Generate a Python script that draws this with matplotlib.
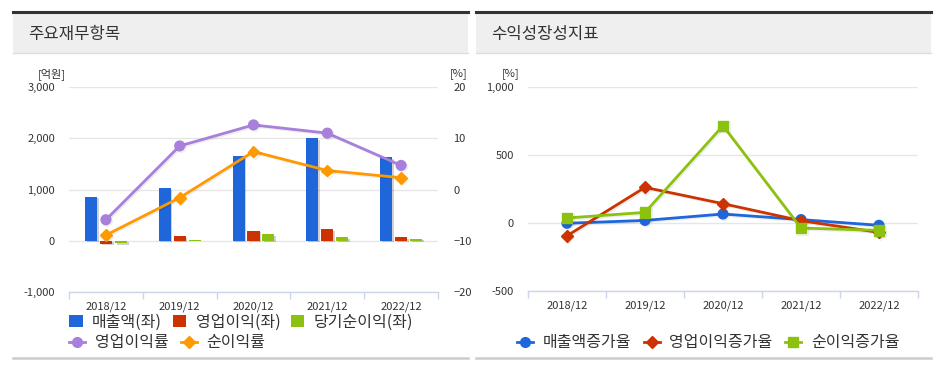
import matplotlib
matplotlib.use("Agg")
import matplotlib.pyplot as plt
import matplotlib.patheffects as pe
from matplotlib.patches import Rectangle
from matplotlib.lines import Line2D
import matplotlib.ticker as mtick
import numpy as np

plt.rcParams["font.family"] = ["Noto Sans CJK KR", "DejaVu Sans"]

# ---- data ----
years = ["2018/12", "2019/12", "2020/12", "2021/12", "2022/12"]

sales = [863, 1020, 1654, 2000, 1627]          # 매출액(좌)
op_profit = [-55, 95, 200, 228, 72]            # 영업이익(좌)
net_profit = [-45, 5, 130, 72, 40]             # 당기순이익(좌)
op_margin = [-5.9, 8.5, 12.6, 11.0, 4.7]       # 영업이익률
net_margin = [-8.9, -1.6, 7.4, 3.7, 2.3]       # 순이익률

sales_growth = [-2, 19, 66, 25, -17]           # 매출액증가율
op_growth = [-94, 262, 142, 17, -69]           # 영업이익증가율
net_growth = [37, 78, 715, -37, -54]           # 순이익증가율

W, H = 937, 368
BLUE, RED, GREEN = "#1f66db", "#cc3300", "#8cc20f"
PURPLE, ORANGE = "#a87fdb", "#ff9900"
GRID = "#e6e6e6"
AXIS = "#ccd6eb"
TXT = "#333333"
LEG_FS = 11.5


def fx(px):
    return px / W


def fy(py):
    return 1 - py / H


def rect(x0, y0, x1, y1):
    return [fx(x0), fy(y1), fx(x1 - x0), (y1 - y0) / H]


fig = plt.figure(figsize=(W / 100, H / 100), dpi=100)

# panel frames / headers
for x0, x1, title in [(13, 468, "주요재무항목"), (476, 931, "수익성장성지표")]:
    fig.patches.append(Rectangle((fx(x0), fy(53)), fx(x1 - x0), 40 / H,
                                 transform=fig.transFigure, facecolor="#efefef", edgecolor="none"))
    fig.add_artist(Line2D([fx(x0), fx(x1)], [fy(12), fy(12)], color="#333333", lw=2.2))
    fig.add_artist(Line2D([fx(x0), fx(x1)], [fy(53), fy(53)], color="#dddddd", lw=1))
    fig.add_artist(Line2D([fx(x0), fx(x1)], [fy(358), fy(358)], color="#cccccc", lw=1.8))
    fig.text(fx(x0 + 15), fy(34), title, fontsize=12, color="#333333", va="center", ha="left")

shadow = [pe.SimplePatchShadow(offset=(1.2, -1.2), shadow_rgbFace="k", alpha=0.18), pe.Normal()]
lshadow = [pe.SimpleLineShadow(offset=(1, -1), shadow_color="k", alpha=0.07), pe.Normal()]


def style_axis(ax, yticks, ylim, fmt):
    ax.set_ylim(*ylim)
    ax.set_xlim(-0.5, 4.5)
    ax.set_yticks(yticks)
    ax.yaxis.set_major_formatter(fmt)
    for s in ["top", "right", "left"]:
        ax.spines[s].set_visible(False)
    ax.spines["bottom"].set_color(AXIS)
    ax.spines["bottom"].set_linewidth(1)
    ax.grid(axis="y", color=GRID, lw=1)
    ax.set_axisbelow(True)
    ax.tick_params(axis="y", length=0, pad=10, labelsize=8, labelcolor=TXT)
    ax.set_xticks(np.arange(-0.5, 5, 1), minor=False)
    ax.set_xticklabels([])
    ax.tick_params(axis="x", which="major", length=5, color=AXIS, width=1)
    ax.set_xticks(np.arange(5), minor=True)
    ax.set_xticklabels(years, minor=True)
    ax.tick_params(axis="x", which="minor", length=0, pad=7, labelsize=8, labelcolor=TXT)


comma = mtick.FuncFormatter(lambda v, p: f"{v:,.0f}")

# ---- left chart ----
ax1 = fig.add_axes(rect(69, 87, 438, 292))
style_axis(ax1, [-1000, 0, 1000, 2000, 3000], (-1000, 3000), comma)
x = np.arange(len(years))
bw = 0.163
off = 0.203
ax1.bar(x - off, sales, bw, color=BLUE, path_effects=shadow, zorder=2)
ax1.bar(x, op_profit, bw, color=RED, path_effects=shadow, zorder=2)
ax1.bar(x + off, net_profit, bw, color=GREEN, path_effects=shadow, zorder=2)

ax2 = ax1.twinx()
ax2.set_ylim(-20, 20)
ax2.set_yticks([-20, -10, 0, 10, 20])
for s in ["top", "right", "left", "bottom"]:
    ax2.spines[s].set_visible(False)
ax2.tick_params(axis="y", length=0, pad=11, labelsize=8, labelcolor=TXT)
ax2.plot(x, op_margin, color=PURPLE, lw=2, marker="o", ms=7, path_effects=lshadow, zorder=3)
ax2.plot(x, net_margin, color=ORANGE, lw=2, marker="D", ms=6, path_effects=lshadow, zorder=3)

fig.text(fx(38), fy(74), "[억원]", fontsize=8, color=TXT, va="center", ha="left")
fig.text(fx(450), fy(74), "[%]", fontsize=8, color=TXT, va="center", ha="left")

bar_handles = [Rectangle((0, 0), 1, 1, facecolor=c, edgecolor="none") for c in (BLUE, RED, GREEN)]
fig.legend(bar_handles, ["매출액(좌)", "영업이익(좌)", "당기순이익(좌)"],
           loc="center left", bbox_to_anchor=(fx(69), fy(322)), ncol=3, frameon=False,
           fontsize=LEG_FS, handlelength=0.85, handleheight=0.85, handletextpad=0.6,
           columnspacing=0.65, labelcolor=TXT, borderaxespad=0, borderpad=0)
line_handles = [Line2D([], [], color=PURPLE, lw=2, marker="o", ms=7),
                Line2D([], [], color=ORANGE, lw=2, marker="D", ms=6)]
fig.legend(line_handles, ["영업이익률", "순이익률"],
           loc="center left", bbox_to_anchor=(fx(69), fy(343)), ncol=2, frameon=False,
           fontsize=LEG_FS, handlelength=1.0, handletextpad=0.6, columnspacing=0.8,
           labelcolor=TXT, borderaxespad=0, borderpad=0)

# ---- right chart ----
ax3 = fig.add_axes(rect(528, 87, 918, 291))
style_axis(ax3, [-500, 0, 500, 1000], (-500, 1000), comma)
ax3.plot(x, sales_growth, color=BLUE, lw=2, marker="o", ms=7, path_effects=lshadow, zorder=3)
ax3.plot(x, op_growth, color=RED, lw=2, marker="D", ms=6, path_effects=lshadow, zorder=3)
ax3.plot(x, net_growth, color=GREEN, lw=2, marker="s", ms=7.5, path_effects=lshadow, zorder=3)
fig.text(fx(502), fy(74), "[%]", fontsize=8, color=TXT, va="center", ha="left")

g_handles = [Line2D([], [], color=BLUE, lw=2, marker="o", ms=7),
             Line2D([], [], color=RED, lw=2, marker="D", ms=6),
             Line2D([], [], color=GREEN, lw=2, marker="s", ms=7.5)]
fig.legend(g_handles, ["매출액증가율", "영업이익증가율", "순이익증가율"],
           loc="center", bbox_to_anchor=(fx(708), fy(343)), ncol=3, frameon=False,
           fontsize=LEG_FS, handlelength=1.0, handletextpad=0.6, columnspacing=0.8,
           labelcolor=TXT, borderaxespad=0, borderpad=0)

fig.savefig("out.png", dpi=100)
